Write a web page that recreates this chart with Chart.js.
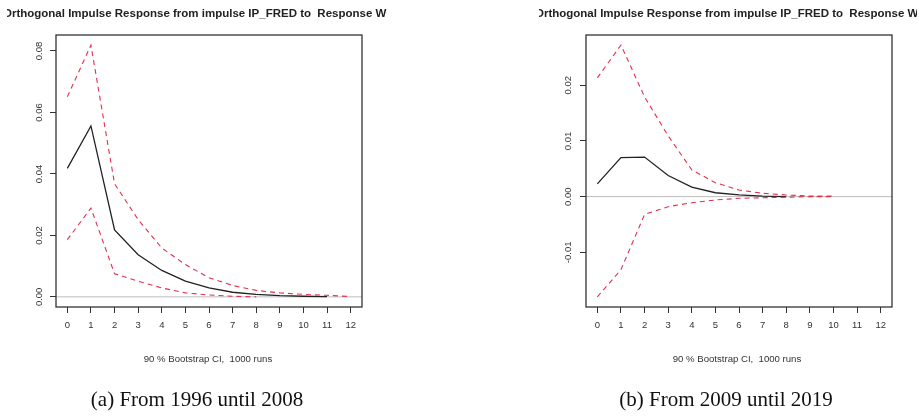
<!DOCTYPE html>
<html>
<head>
<meta charset="utf-8">
<script src="https://cdn.jsdelivr.net/npm/chart.js@4"></script>
<style>
  body { margin: 0; width: 919px; height: 417px; background: #fff; position: relative; overflow: hidden;
         font-family: "Liberation Sans", Arial, sans-serif; }
  .panel { position: absolute; top: 0; width: 460px; height: 417px; }
  .panel canvas { position: absolute; left: 0; top: 0; }
  .title { position: absolute; top: 7px; height: 17px; overflow: hidden; white-space: pre;
           font-weight: bold; font-size: 11.5px; color: #222; }
  .title span { display: inline-block; margin-left: -4px; }
  .sub { position: absolute; top: 353px; font-size: 9.6px; color: #333; white-space: pre; transform: translateX(-50%); }
  .cap { position: absolute; top: 387px; font-family: "Liberation Serif", "Times New Roman", serif;
         font-size: 21px; color: #111; white-space: nowrap; transform: translateX(-50%); }
</style>
</head>
<body>
<div class="panel" style="left:0"><canvas id="irfA" width="460" height="417"></canvas></div>
<div class="panel" style="left:459px"><canvas id="irfB" width="460" height="417"></canvas></div>

<div class="title" style="left:7px;width:382px"><span>Orthogonal Impulse Response from impulse IP_FRED to  Response W</span></div>
<div class="title" style="left:539px;width:378px"><span>Orthogonal Impulse Response from impulse IP_FRED to  Response W</span></div>
<div class="sub" style="left:208px">90 % Bootstrap CI,  1000 runs</div>
<div class="sub" style="left:737px">90 % Bootstrap CI,  1000 runs</div>
<div class="cap" style="left:197px">(a) From 1996 until 2008</div>
<div class="cap" style="left:726px">(b) From 2009 until 2019</div>

<script>
// --- данные ---
const steps = [0, 1, 2, 3, 4, 5, 6, 7, 8, 9, 10, 11, 12];
const xTickLabels = ['0', '1', '2', '3', '4', '5', '6', '7', '8', '9', '10', '11', '12'];

// (a) 1996-2008
const meanA  = [0.0418, 0.0556, 0.0218, 0.0137, 0.0086, 0.0051, 0.0029, 0.0015, 0.0008, 0.0004, 0.0002, 0.0001, null];
const upperA = [0.0651, 0.0819, 0.0368, 0.0251, 0.0159, 0.0105, 0.0062, 0.0037, 0.0021, 0.0013, 0.0008, 0.0005, 0.0001];
const lowerA = [0.0186, 0.0289, 0.0075, 0.0051, 0.0029, 0.0013, 0.0006, 0.0002, 0.0000, null, null, null, null];
const yTicksA = [0, 0.02, 0.04, 0.06, 0.08];
const yLabelsA = ['0.00', '0.02', '0.04', '0.06', '0.08'];

// (b) 2009-2019
const meanB  = [0.0023, 0.0070, 0.0071, 0.0038, 0.0017, 0.0007, 0.0003, 0.0001, 0.0000, null, null, null, null];
const upperB = [0.0213, 0.0272, 0.0179, 0.0109, 0.0048, 0.0025, 0.0012, 0.0006, 0.0003, 0.0001, 0.0001, null, null];
const lowerB = [-0.0180, -0.0131, -0.0032, -0.0018, -0.0011, -0.0006, -0.0003, -0.0002, -0.0001, 0.0000, 0.0000, null, null];
const yTicksB = [-0.01, 0, 0.01, 0.02];
const yLabelsB = ['-0.01', '0.00', '0.01', '0.02'];

// --- отрисовка ---
const AXIS_COLOR = '#333';
const CI_COLOR = '#e0304e';
const TICK_FONT = { family: 'Liberation Sans', size: 9.5 };

// рамка вокруг области графика + горизонтальная линия на нуле
const boxPlugin = {
  id: 'rBox',
  beforeDatasetsDraw(chart) {
    const { ctx, chartArea: a, scales } = chart;
    const y0 = scales.y.getPixelForValue(0);
    ctx.save();
    ctx.strokeStyle = '#bdbdbd';
    ctx.lineWidth = 1;
    ctx.beginPath();
    ctx.moveTo(a.left, y0);
    ctx.lineTo(a.right, y0);
    ctx.stroke();
    ctx.restore();
  },
  afterDraw(chart) {
    const { ctx, chartArea: a } = chart;
    ctx.save();
    ctx.strokeStyle = AXIS_COLOR;
    ctx.lineWidth = 1.3;
    ctx.strokeRect(a.left, a.top, a.right - a.left, a.bottom - a.top);
    ctx.restore();
  }
};

function series(arr) {
  return steps.map((s, i) => ({ x: s, y: arr[i] }));
}

function makePanel(id, mean, upper, lower, yTicks, yLabels, yMin, yMax, axisWidth, padRight) {
  const dashed = { borderColor: CI_COLOR, borderWidth: 1.1, borderDash: [5, 4], pointRadius: 0, fill: false, tension: 0 };
  new Chart(document.getElementById(id), {
    type: 'line',
    data: {
      datasets: [
        { data: series(upper), ...dashed },
        { data: series(lower), ...dashed },
        { data: series(mean), borderColor: '#222', borderWidth: 1.3, pointRadius: 0, fill: false, tension: 0 }
      ]
    },
    options: {
      responsive: false,
      animation: false,
      devicePixelRatio: 1,
      layout: { padding: { top: 35, right: padRight, left: 0, bottom: 0 } },
      plugins: { legend: { display: false }, tooltip: { enabled: false } },
      scales: {
        x: {
          type: 'linear', min: -0.48, max: 12.48,
          afterBuildTicks: s => { s.ticks = steps.map(v => ({ value: v })); },
          afterFit: s => { s.height = 110; },
          border: { display: false },
          grid: { drawOnChartArea: false, drawTicks: true, tickLength: 6, color: AXIS_COLOR, lineWidth: 1 },
          ticks: { padding: 7, color: '#333', font: TICK_FONT,
                   maxRotation: 0, autoSkip: false, callback: v => xTickLabels[steps.indexOf(v)] }
        },
        y: {
          min: yMin, max: yMax,
          afterBuildTicks: s => { s.ticks = yTicks.map(v => ({ value: v })); },
          afterFit: s => { s.width = axisWidth; },
          border: { display: false },
          grid: { drawOnChartArea: false, drawTicks: true, tickLength: 6, color: AXIS_COLOR, lineWidth: 1 },
          ticks: { padding: 1, color: '#333', font: TICK_FONT,
                   minRotation: 90, maxRotation: 90, crossAlign: 'center', autoSkip: false,
                   callback: v => yLabels[yTicks.findIndex(t => Math.abs(t - v) < 1e-9)] }
        }
      }
    },
    plugins: [boxPlugin]
  });
}

makePanel('irfA', meanA, upperA, lowerA, yTicksA, yLabelsA, -0.0033, 0.0852, 56, 98);
makePanel('irfB', meanB, upperB, lowerB, yTicksB, yLabelsB, -0.0198, 0.0290, 127, 27);
</script>
</body>
</html>
